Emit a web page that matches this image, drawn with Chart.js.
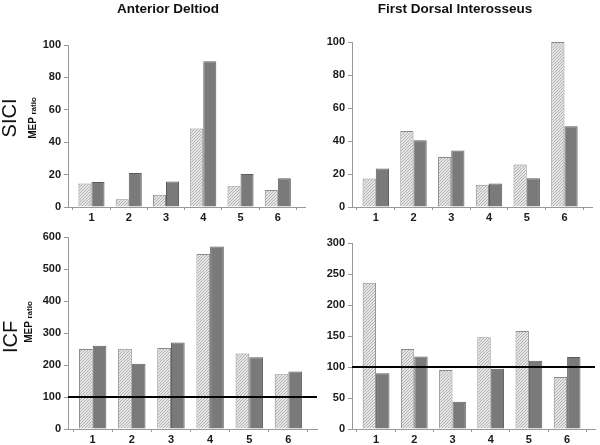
<!DOCTYPE html>
<html>
<head>
<meta charset="utf-8">
<script src="https://cdn.jsdelivr.net/npm/chart.js@4.4.1/dist/chart.umd.min.js"></script>
<style>
  body { margin: 0; background: #fff; }
  #wrap { position: relative; width: 600px; height: 445px; overflow: hidden; font-family: Arial, "Liberation Sans", sans-serif; }
  #wrap canvas { position: absolute; left: 0; top: 0; }
  .title { position: absolute; top: 1px; font-weight: bold; font-size: 13.5px; color: #111; transform: translateX(-50%); white-space: nowrap; }
  .rot { position: absolute; transform: translate(-50%, -50%) rotate(-90deg); white-space: nowrap; color: #111; }
  .big { font-size: 20px; }
  .mep { font-size: 10px; font-weight: bold; }
  .mep small { font-size: 8px; }
</style>
</head>
<body>
<div id="wrap">
  <canvas id="siciDeltoid" width="600" height="445"></canvas>
  <canvas id="siciFdi" width="600" height="445"></canvas>
  <canvas id="icfDeltoid" width="600" height="445"></canvas>
  <canvas id="icfFdi" width="600" height="445"></canvas>

  <div class="title" style="left:168px">Anterior Deltiod</div>
  <div class="title" style="left:455px">First Dorsal Interosseus</div>

  <div class="rot big" style="left:9px; top:118px">SICI</div>
  <div class="rot mep" style="left:32px; top:118px">MEP <small>ratio</small></div>
  <div class="rot big" style="left:10px; top:337px">ICF</div>
  <div class="rot mep" style="left:28px; top:322px">MEP <small>ratio</small></div>
</div>

<script>
/* --- Data --- */
const categories = [1, 2, 3, 4, 5, 6];

const siciDeltoidLight = [14.5, 4.8, 7.5, 48.5, 12.8, 10.5];
const siciDeltoidDark  = [15.5, 21, 15.8, 90, 20.3, 17.8];
const siciFdiLight     = [17.3, 46, 30.3, 13.5, 25.8, 100];
const siciFdiDark      = [23.3, 40.5, 34.3, 14.3, 17.5, 49];

const icfDeltoidLight  = [250, 251, 253, 547, 236, 171];
const icfDeltoidDark   = [260, 204, 270, 570, 224, 180];
const icfFdiLight      = [236, 129, 95, 148, 158, 84];
const icfFdiDark       = [90, 117, 44, 97, 110, 116];

const siciTicks       = [0, 20, 40, 60, 80, 100];
const icfDeltoidTicks = [0, 100, 200, 300, 400, 500, 600];
const icfFdiTicks     = [0, 50, 100, 150, 200, 250, 300];

const baselineValue = 100;

/* --- Styling helpers --- */
const FONT = 'Arial, "Liberation Sans", sans-serif';

// fine "/" hatching used for the light bars
function makeHatch() {
  const c = document.createElement('canvas');
  c.width = 3; c.height = 3;
  const g = c.getContext('2d');
  g.fillStyle = '#e6e6e6';
  g.fillRect(0, 0, 3, 3);
  g.fillStyle = '#b2b2b2';
  g.fillRect(0, 2, 1, 1);
  g.fillRect(1, 1, 1, 1);
  g.fillRect(2, 0, 1, 1);
  return g.createPattern(c, 'repeat');
}
const hatch = makeHatch();

function toPoints(values) {
  return categories.map((c, i) => ({ x: c, y: values[i] }));
}

/* --- One panel --- */
function drawPanel(canvasId, area, light, dark, yTicks, withBaseline) {
  const xMin = 0.37, xMax = 6.73;
  const datasets = [
    {
      data: toPoints(light),
      backgroundColor: hatch,
      borderColor: '#8a8a8a',
      borderWidth: 1,
      categoryPercentage: 0.7,
      barPercentage: 1,
      order: 2
    },
    {
      data: toPoints(dark),
      backgroundColor: '#7a7a7a',
      borderColor: '#5c5c5c',
      borderWidth: 1,
      categoryPercentage: 0.7,
      barPercentage: 1,
      order: 2
    }
  ];
  if (withBaseline) {
    datasets.push({
      type: 'line',
      data: [{ x: xMin, y: baselineValue }, { x: xMax, y: baselineValue }],
      borderColor: '#000',
      borderWidth: 2,
      pointRadius: 0,
      order: 0
    });
  }

  new Chart(document.getElementById(canvasId), {
    type: 'bar',
    data: { datasets: datasets },
    options: {
      responsive: false,
      animation: false,
      layout: {
        padding: {
          left: area.left - 40,
          right: 600 - area.right,
          top: area.top,
          bottom: 445 - area.bottom - 20
        }
      },
      plugins: { legend: { display: false }, tooltip: { enabled: false } },
      scales: {
        x: {
          type: 'linear',
          min: xMin,
          max: xMax,
          offset: false,
          afterBuildTicks: s => { s.ticks = categories.map(v => ({ value: v })); },
          afterFit: s => { s.height = 20; },
          grid: { display: true, drawOnChartArea: false, tickLength: 3, color: '#999' },
          border: { color: '#999', width: 1 },
          ticks: { color: '#1a1a1a', padding: 1, font: { family: FONT, size: 11, weight: 'bold' } }
        },
        y: {
          min: yTicks[0],
          max: yTicks[yTicks.length - 1],
          afterBuildTicks: s => { s.ticks = yTicks.map(v => ({ value: v })); },
          afterFit: s => { s.width = 40; },
          grid: { drawOnChartArea: false, tickLength: 4, color: '#999' },
          border: { color: '#999', width: 1 },
          ticks: { color: '#1a1a1a', padding: 3, font: { family: FONT, size: 11, weight: 'bold' } }
        }
      }
    }
  });
}

/* --- Init all --- */
drawPanel('siciDeltoid', { left: 68, right: 305, top: 45, bottom: 207 }, siciDeltoidLight, siciDeltoidDark, siciTicks, false);
drawPanel('siciFdi', { left: 352, right: 592, top: 42, bottom: 207 }, siciFdiLight, siciFdiDark, siciTicks, false);
drawPanel('icfDeltoid', { left: 68, right: 317, top: 237, bottom: 429 }, icfDeltoidLight, icfDeltoidDark, icfDeltoidTicks, true);
drawPanel('icfFdi', { left: 352, right: 595, top: 243, bottom: 429 }, icfFdiLight, icfFdiDark, icfFdiTicks, true);
</script>
</body>
</html>
